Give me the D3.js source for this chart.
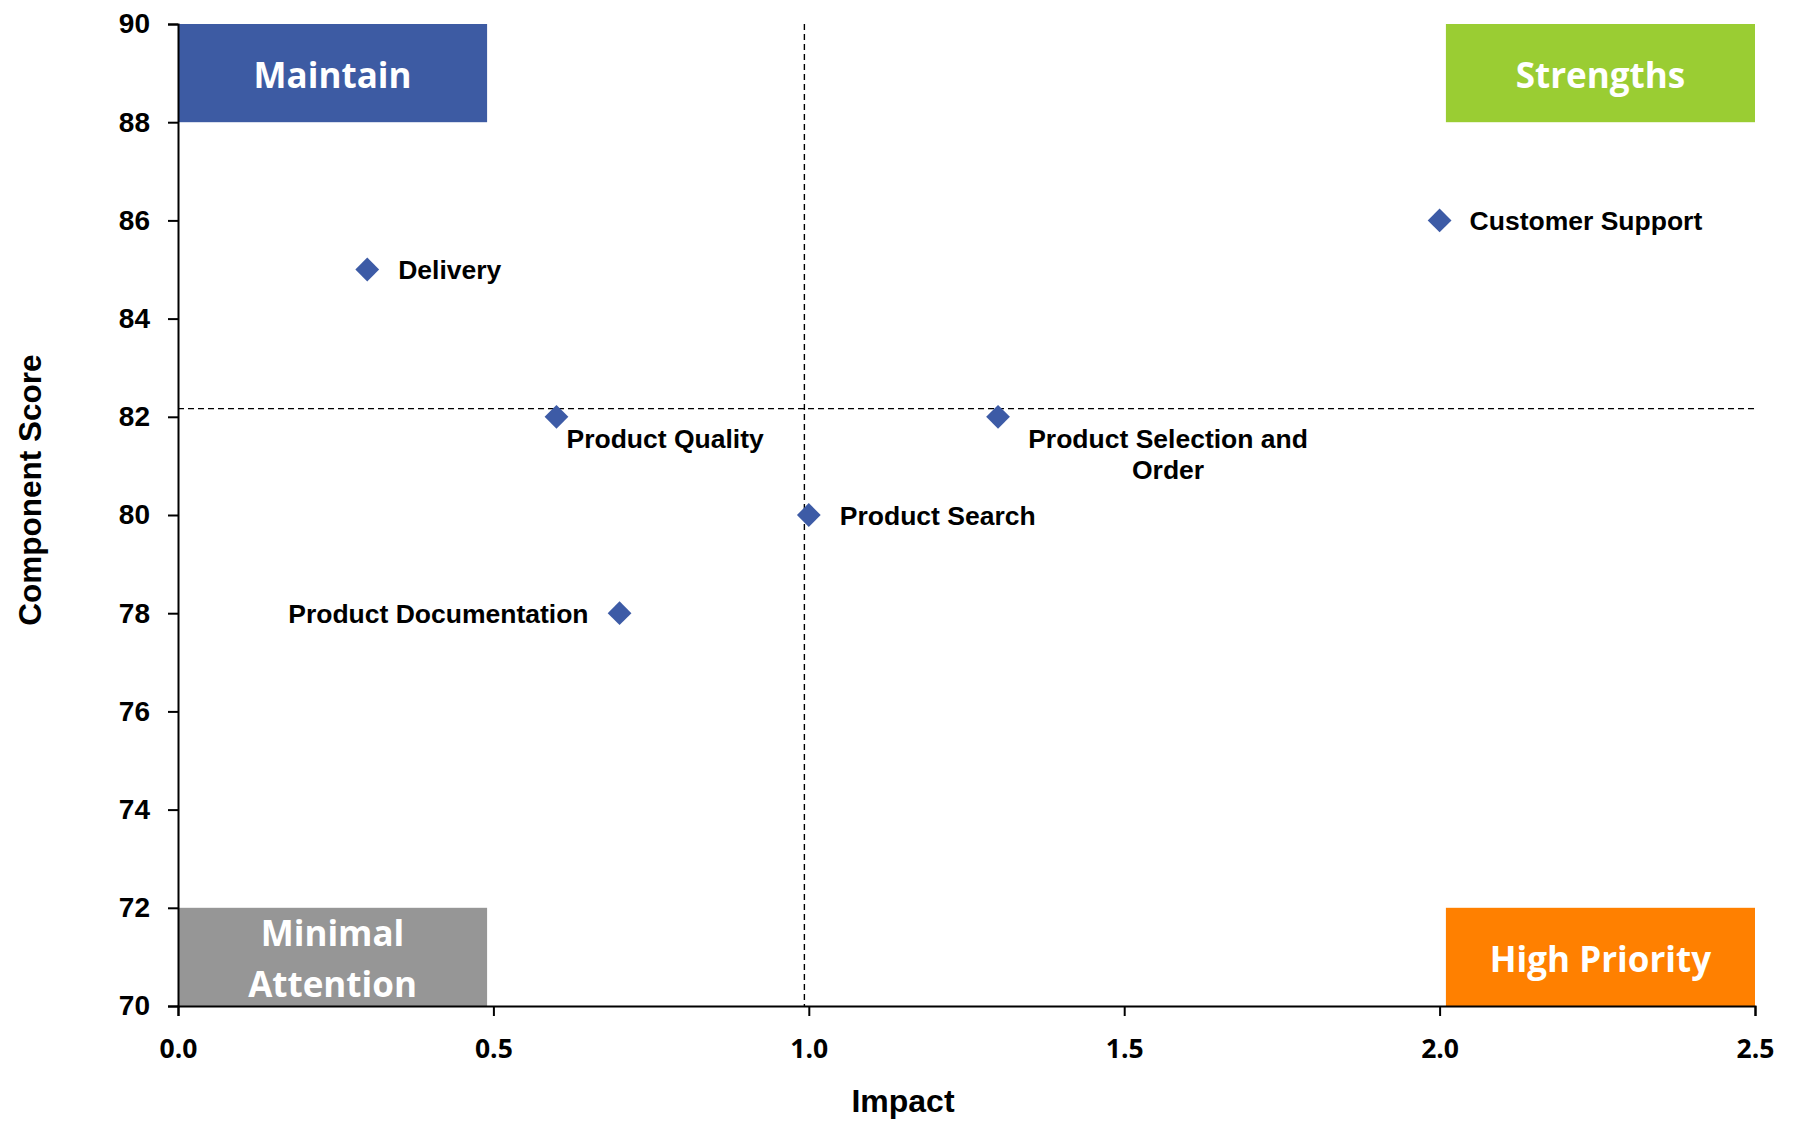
<!DOCTYPE html>
<html>
<head>
<meta charset="utf-8">
<script src="https://cdn.jsdelivr.net/npm/d3@7"></script>
<style>
  html, body { margin: 0; padding: 0; background: #fff; }
  svg { display: block; }
</style>
</head>
<body>
<svg id="chart" width="1793" height="1122"></svg>
<script>
// Component scores plotted against their impact
const components = ["Delivery", "Product Quality", "Product Documentation", "Product Search", "Product Selection and Order", "Customer Support"];
const impact = [0.3, 0.6, 0.7, 1.0, 1.3, 2.0];
const score = [85, 82, 78, 80, 82, 86];

// Axis ticks
const xTicks = [0, 0.5, 1.0, 1.5, 2.0, 2.5];
const yTicks = [70, 72, 74, 76, 78, 80, 82, 84, 86, 88, 90];

// Quadrant reference lines
const refImpact = 0.993;
const refScore = d3.mean(score);

// Quadrant corner tags (in data units)
const quadrantNames = ["Maintain", "Strengths", "Minimal Attention", "High Priority"];
const quadrantColors = ["#3d5ba3", "#9acd33", "#969696", "#ff8000"];
const quadrantX0 = [0, 2.01, 0, 2.01];
const quadrantX1 = [0.49, 2.5, 0.49, 2.5];
const quadrantY0 = [88, 88, 70, 70];
const quadrantY1 = [90, 90, 72, 72];

const svg = d3.select("#chart");
const margin = { left: 178, top: 24, right: 38, bottom: 116 };
const W = 1793 - margin.left - margin.right;
const H = 1122 - margin.top - margin.bottom;

const x = d3.scaleLinear().domain([0, 2.5]).range([0, W]);
const y = d3.scaleLinear().domain([70, 90]).range([H, 0]);

const g = svg.append("g").attr("transform", `translate(${margin.left},${margin.top})`);

// quadrant tags
const tagFont = "'Open Sans', 'Noto Sans', sans-serif";
const labelFont = "'Liberation Sans', Arial, sans-serif";
quadrantNames.forEach((name, i) => {
  const x0 = x(quadrantX0[i]), x1 = x(quadrantX1[i]);
  const y0 = y(quadrantY1[i]), y1 = y(quadrantY0[i]);
  g.append("rect")
    .attr("x", x0).attr("y", y0)
    .attr("width", x1 - x0).attr("height", y1 - y0)
    .attr("fill", quadrantColors[i]);
  const words = name === "Minimal Attention" ? ["Minimal", "Attention"] : [name];
  const cx = (x0 + x1) / 2, cy = (y0 + y1) / 2;
  const lineH = 51;
  const t = g.append("text")
    .attr("text-anchor", "middle")
    .attr("fill", "#fff")
    .style("font-family", tagFont)
    .style("font-weight", "700")
    .style("font-size", "35px");
  words.forEach((w, k) => {
    t.append("tspan")
      .attr("x", cx)
      .attr("y", cy + (k - (words.length - 1) / 2) * lineH)
      .attr("dy", "0.42em")
      .text(w);
  });
});

// dashed reference lines
g.append("line")
  .attr("x1", x(refImpact)).attr("x2", x(refImpact))
  .attr("y1", 0).attr("y2", H)
  .attr("stroke", "#000").attr("stroke-width", 1.4)
  .attr("stroke-dasharray", "6,4");
g.append("line")
  .attr("x1", 0).attr("x2", W)
  .attr("y1", y(refScore)).attr("y2", y(refScore))
  .attr("stroke", "#000").attr("stroke-width", 1.4)
  .attr("stroke-dasharray", "6,4");

// axes
const yAxis = g.append("g")
  .call(d3.axisLeft(y).tickValues(yTicks).tickFormat(d3.format("d")).tickSize(10).tickPadding(18));
const xAxis = g.append("g")
  .attr("transform", `translate(0,${H})`)
  .call(d3.axisBottom(x).tickValues(xTicks).tickFormat(d3.format(".1f")).tickSize(10).tickPadding(23));

[yAxis, xAxis].forEach(a => {
  a.select(".domain").attr("stroke", "#000").attr("stroke-width", 2);
  a.selectAll(".tick line").attr("stroke", "#000").attr("stroke-width", 2);
});
yAxis.selectAll(".tick text")
  .attr("fill", "#000")
  .style("font-family", labelFont)
  .style("font-weight", "700")
  .style("font-size", "28px");
xAxis.selectAll(".tick text")
  .attr("fill", "#000")
  .style("font-family", tagFont)
  .style("font-weight", "700")
  .style("font-size", "26.5px");

// axis titles
svg.append("text")
  .attr("x", 903).attr("y", 1112)
  .attr("text-anchor", "middle")
  .style("font-family", labelFont)
  .style("font-weight", "700")
  .style("font-size", "32px")
  .text("Impact");
svg.append("text")
  .attr("transform", "translate(41,490) rotate(-90)")
  .attr("text-anchor", "middle")
  .style("font-family", labelFont)
  .style("font-weight", "700")
  .style("font-size", "31.5px")
  .text("Component Score");

// points
const diamond = d3.symbol().type(d3.symbolDiamond2).size(360);
components.forEach((c, i) => {
  g.append("path")
    .attr("d", diamond())
    .attr("transform", `translate(${x(impact[i])},${y(score[i])})`)
    .attr("fill", "#3d5ba6");
});

// point labels: anchor, offsets from the point, line breaks
const labelLayout = {
  "Delivery": { anchor: "start", dx: 31, dy: 0, lines: ["Delivery"], central: true },
  "Product Quality": { anchor: "start", dx: 10, dy: 31, lines: ["Product Quality"] },
  "Product Documentation": { anchor: "end", dx: -31, dy: 0, lines: ["Product Documentation"], central: true },
  "Product Search": { anchor: "start", dx: 31, dy: 0, lines: ["Product Search"], central: true },
  "Product Selection and Order": { anchor: "middle", dx: 170, dy: 31, lines: ["Product Selection and", "Order"] },
  "Customer Support": { anchor: "start", dx: 30, dy: 0, lines: ["Customer Support"], central: true }
};
components.forEach((c, i) => {
  const L = labelLayout[c];
  const px = x(impact[i]), py = y(score[i]);
  const t = g.append("text")
    .attr("text-anchor", L.anchor)
    .attr("fill", "#000")
    .style("font-family", labelFont)
    .style("font-weight", "700")
    .style("font-size", "26.5px");
  L.lines.forEach((ln, k) => {
    t.append("tspan")
      .attr("x", px + L.dx)
      .attr("y", py + L.dy + k * 31)
      .attr("dy", L.central ? "0.36em" : 0)
      .text(ln);
  });
});
</script>
</body>
</html>
